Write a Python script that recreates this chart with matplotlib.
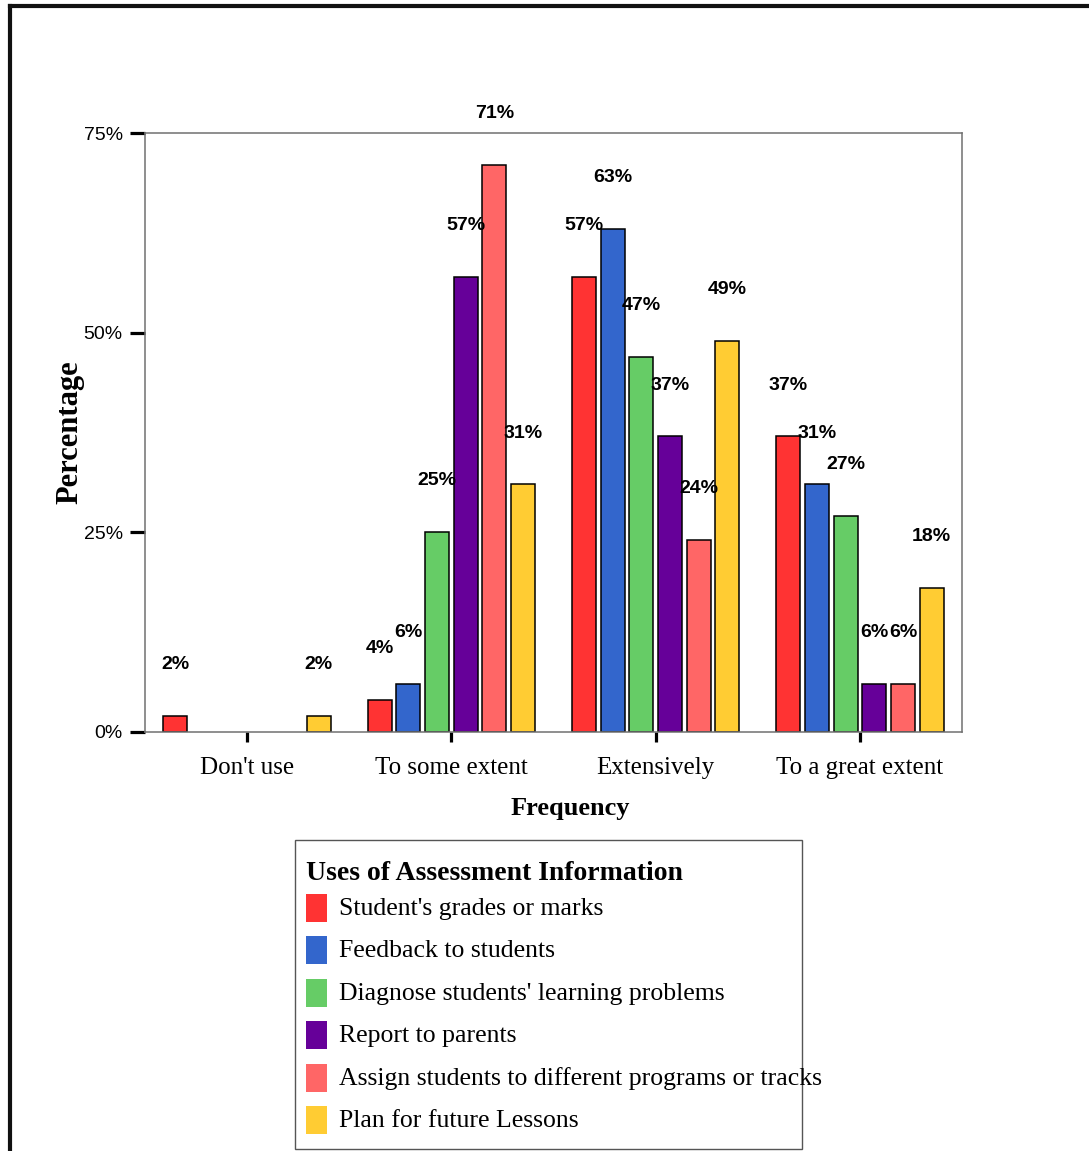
import numpy as np
import matplotlib.pyplot as plt
from matplotlib.patches import Rectangle
from matplotlib.lines import Line2D

# data
categories = ["Don't use", "To some extent", "Extensively", "To a great extent"]
series = ["Student's grades or marks",
          "Feedback to students",
          "Diagnose students' learning problems",
          "Report to parents",
          "Assign students to different programs or tracks",
          "Plan for future Lessons"]
colors = ['#FF3333', '#3366CC', '#66CC66', '#660099', '#FF6666', '#FFCC33']
values = {
    "Student's grades or marks": [2, 4, 57, 37],
    "Feedback to students": [0, 6, 63, 31],
    "Diagnose students' learning problems": [0, 25, 47, 27],
    "Report to parents": [0, 57, 37, 6],
    "Assign students to different programs or tracks": [0, 71, 24, 6],
    "Plan for future Lessons": [2, 31, 49, 18],
}
yticks = [0, 25, 50, 75]

narrow = ['Liberation Sans Narrow', 'Liberation Sans', 'DejaVu Sans']
serif = ['Liberation Serif', 'DejaVu Serif']

W, H = 1089, 1151
fig = plt.figure(figsize=(W / 100, H / 100), dpi=100)
ax = fig.add_axes([145 / W, 1 - 732 / H, (962 - 145) / W, (732 - 133) / H])

x = np.arange(len(categories))
pitch = 0.1405
width = 0.1175
for i, name in enumerate(series):
    pos = x + (i - 2.5) * pitch
    v = np.array(values[name], dtype=float)
    # empty categories get no bar at all (as in the original)
    ax.bar(pos, np.where(v > 0, v, np.nan), width=width, color=colors[i],
           edgecolor='black', linewidth=1.1)
    for xp, val in zip(pos, values[name]):
        if val > 0:
            ax.annotate(f'{val}%', (xp, val), xytext=(0, 37), textcoords='offset points',
                        ha='center', va='center', fontsize=14, fontweight='bold',
                        family=narrow)

ax.set_xlim(-0.5, 3.5)
ax.set_ylim(0, 75)
ax.set_yticks(yticks)
ax.set_yticklabels([f'{t}%' for t in yticks], family=narrow, fontsize=14)
ax.set_xticks(x)
ax.set_xticklabels(categories, family=serif, fontsize=18)
ax.tick_params(axis='y', length=11, width=2.3, pad=5, direction='out')
ax.tick_params(axis='x', length=7, width=2.3, pad=11, direction='out')
for s in ax.spines.values():
    s.set_color('#707070')
    s.set_linewidth(1.1)

fig.text(570 / W, 1 - 808 / H, 'Frequency', ha='center', va='center',
         family=serif, fontsize=19, fontweight='bold')
fig.text(70 / W, 1 - 432 / H, 'Percentage', ha='center', va='center',
         rotation=90, family=serif, fontsize=22, fontweight='bold')

# legend box
fig.add_artist(Rectangle((295 / W, 1 - 1149 / H), (802 - 295) / W, (1149 - 840) / H,
                         transform=fig.transFigure, facecolor='white',
                         edgecolor='#555555', linewidth=1))
fig.text(306 / W, 1 - 873 / H, 'Uses of Assessment Information', ha='left', va='center',
         family=serif, fontsize=20, fontweight='bold')
for i, name in enumerate(series):
    yc = 908 + i * 42.4
    fig.add_artist(Rectangle((306 / W, 1 - (yc + 14) / H), 21 / W, 28 / H,
                             transform=fig.transFigure, facecolor=colors[i],
                             edgecolor='none'))
    fig.text(339 / W, 1 - (yc + 1) / H, name, ha='left', va='center',
             family=serif, fontsize=18.5)

# outer frame
fig.add_artist(Line2D([10 / W, 1], [1 - 6 / H, 1 - 6 / H], transform=fig.transFigure,
                      color='#111111', linewidth=3))
fig.add_artist(Line2D([10 / W, 10 / W], [1 - 6 / H, 0], transform=fig.transFigure,
                      color='#111111', linewidth=3))

fig.savefig('out.png', dpi=100)
